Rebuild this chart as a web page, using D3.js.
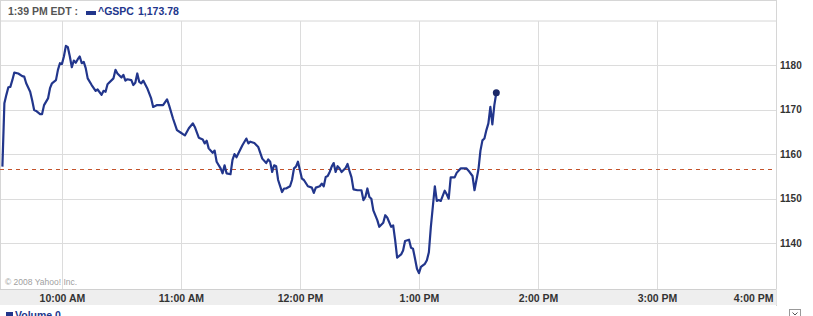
<!DOCTYPE html>
<html>
<head>
<meta charset="utf-8">
<script src="https://cdn.jsdelivr.net/npm/d3@7"></script>
<style>
  body { margin: 0; background: #fff; }
  svg { display: block; font-family: "Liberation Sans", Arial, sans-serif; }
</style>
</head>
<body>
<div id="chart"></div>
<script>
// ^GSPC intraday, minutes after the 9:30 open and the index level
const minutesSinceOpen = [
  0, 1, 2, 3, 4, 5, 6, 8, 10, 11, 12, 14, 15, 16, 17, 19, 20, 21, 23, 24,
  25, 27, 28, 29, 30, 31, 32, 33, 34, 35, 36, 37, 38, 39, 40, 41, 42, 43, 45, 47,
  48, 50, 51, 52, 53, 56, 57, 58, 60, 61, 62, 63, 65, 66, 67, 68, 69, 70, 71, 73,
  75, 76, 78, 81, 83, 84, 86, 88, 90, 91, 92, 94, 96, 97, 99, 101, 102, 103, 104, 106,
  107, 108, 110, 111, 112, 113, 115, 116, 117, 118, 120, 121, 123, 124, 125, 127, 129, 130, 131, 133,
  134, 135, 136, 137, 138, 139, 141, 142, 143, 145, 146, 147, 148, 149, 150, 151, 152, 154, 156, 157,
  158, 160, 161, 162, 163, 164, 165, 166, 167, 168, 169, 170, 171, 173, 174, 175, 176, 177, 179, 181,
  182, 183, 184, 185, 186, 187, 189, 190, 192, 193, 194, 196, 197, 198, 199, 201, 202, 203, 205, 206,
  207, 208, 209, 210, 211, 213, 214, 215, 216, 218, 219, 220, 221, 223, 224, 225, 226, 228, 229, 231,
  234, 235, 237, 238, 240, 241, 242, 243, 244, 245, 246, 247, 248, 249
];
const prices = [
  1157.2, 1171.4, 1173.3, 1175.0, 1175.1, 1176.6, 1178.3, 1178.1, 1177.5, 1177.4, 1175.9, 1174.0, 1172.1, 1169.9, 1169.7, 1169.0, 1169.0, 1171.0, 1172.5, 1174.8,
  1175.9, 1176.6, 1178.9, 1180.4, 1180.2, 1181.9, 1184.3, 1184.0, 1181.9, 1179.5, 1181.0, 1180.5, 1181.3, 1181.9, 1180.4, 1180.7, 1179.3, 1177.0, 1175.5, 1174.2,
  1174.5, 1173.3, 1174.2, 1174.0, 1175.7, 1177.0, 1178.9, 1178.1, 1177.2, 1177.8, 1176.5, 1176.8, 1176.6, 1175.5, 1176.0, 1178.1, 1176.2, 1175.9, 1176.5, 1174.8,
  1172.5, 1170.6, 1171.0, 1171.0, 1172.3, 1171.0, 1168.0, 1165.4, 1164.8, 1164.5, 1164.2, 1165.8, 1166.9, 1166.1, 1163.7, 1163.3, 1162.4, 1163.0, 1161.3, 1160.3,
  1160.8, 1158.3, 1156.8, 1155.7, 1157.5, 1155.7, 1155.5, 1158.7, 1160.0, 1159.3, 1161.1, 1162.0, 1163.5, 1162.4, 1162.8, 1162.5, 1161.6, 1160.3, 1159.0, 1158.0,
  1158.8, 1158.3, 1156.0, 1157.5, 1157.3, 1154.2, 1151.5, 1152.3, 1152.3, 1152.8, 1154.2, 1156.8, 1157.2, 1158.3, 1156.4, 1154.5, 1154.2, 1152.8, 1152.5, 1151.3,
  1152.5, 1152.8, 1153.4, 1152.8, 1154.9, 1155.1, 1156.0, 1157.2, 1158.0, 1156.0, 1157.3, 1156.8, 1156.0, 1156.9, 1157.8, 1156.2, 1154.8, 1152.1, 1151.9, 1151.9,
  1149.7, 1150.4, 1152.3, 1150.4, 1150.0, 1147.4, 1145.2, 1143.7, 1144.6, 1146.3, 1145.8, 1143.7, 1144.0, 1140.7, 1136.8, 1137.5, 1138.4, 1140.5, 1140.8, 1139.0,
  1138.8, 1136.6, 1134.3, 1133.3, 1134.7, 1135.4, 1136.2, 1138.0, 1143.7, 1152.8, 1149.5, 1149.7, 1149.5, 1151.8, 1151.0, 1150.0, 1154.8, 1154.8, 1155.8, 1156.8,
  1156.8, 1156.3, 1155.1, 1151.9, 1156.6, 1160.8, 1163.1, 1163.5, 1165.4, 1166.9, 1170.6, 1166.7, 1171.0, 1173.78
];
const previousClose = 1156.6;
const yTicks = [1140, 1150, 1160, 1170, 1180];
const xTickMinutes = [30, 90, 150, 210, 270, 330, 390];
const xTickLabels = ["10:00 AM", "11:00 AM", "12:00 PM", "1:00 PM", "2:00 PM", "3:00 PM", "4:00 PM"];
const headerTime = "1:39 PM EDT :";
const symbol = "^GSPC";
const lastPrice = "1,173.78";

const W = 813, H = 316;
const plot = { left: 0, right: 776, top: 21, bottom: 289 };
const navy = "#22368c";

const svg = d3.select("#chart").append("svg")
  .attr("width", W)
  .attr("height", H);

const x = d3.scaleLinear().domain([0, 390]).range([2.4, plot.right]);
const y = d3.scaleLinear().domain([1129.75, 1189.87]).range([plot.bottom, plot.top]);

// header strip
svg.append("rect")
  .attr("x", 0.5).attr("y", 0.5)
  .attr("width", plot.right).attr("height", plot.top - 0.5)
  .attr("fill", "#fff").attr("stroke", "#d6d6d6");

svg.append("text")
  .attr("x", 8).attr("y", 15)
  .attr("font-size", "10.5px").attr("font-weight", "bold")
  .attr("fill", "#555")
  .text(headerTime);

svg.append("rect")
  .attr("x", 86).attr("y", 11).attr("width", 10).attr("height", 4)
  .attr("fill", navy);

svg.append("text")
  .attr("x", 98).attr("y", 15)
  .attr("font-size", "10.5px").attr("font-weight", "bold")
  .attr("fill", navy)
  .text(symbol);

svg.append("text")
  .attr("x", 138).attr("y", 15)
  .attr("font-size", "10.5px").attr("font-weight", "bold")
  .attr("fill", navy)
  .text(lastPrice);

// grid
svg.append("g")
  .selectAll("line")
  .data(yTicks)
  .join("line")
  .attr("x1", plot.left).attr("x2", plot.right)
  .attr("y1", d => Math.round(y(d)) + 0.5).attr("y2", d => Math.round(y(d)) + 0.5)
  .attr("stroke", "#dcdcdc");

svg.append("g")
  .selectAll("line")
  .data(xTickMinutes.slice(0, -1))
  .join("line")
  .attr("x1", d => Math.round(x(d)) + 0.5).attr("x2", d => Math.round(x(d)) + 0.5)
  .attr("y1", plot.top).attr("y2", plot.bottom)
  .attr("stroke", "#dcdcdc");

// plot border
svg.append("path")
  .attr("d", `M${plot.left + 0.5},${plot.top}V${plot.bottom}M${plot.right + 0.5},0V${plot.bottom + 17}`)
  .attr("stroke", "#d6d6d6").attr("fill", "none");

// right axis labels
const yAxis = d3.axisRight(y).tickValues(yTicks).tickFormat(d3.format("d")).tickSize(0).tickPadding(4);
svg.append("g")
  .attr("transform", `translate(${plot.right},0)`)
  .call(yAxis)
  .call(g => g.select(".domain").remove())
  .selectAll("text")
  .attr("font-family", "Liberation Sans, Arial, sans-serif")
  .attr("font-size", "10px")
  .attr("font-weight", "bold")
  .attr("fill", "#333");

// copyright
svg.append("text")
  .attr("x", 5).attr("y", 285)
  .attr("font-size", "8.5px")
  .attr("fill", "#a0a0a0")
  .text("\u00a9 2008 Yahoo! Inc.");

// previous close
svg.append("line")
  .attr("x1", plot.left).attr("x2", plot.right)
  .attr("y1", Math.round(y(previousClose)) + 0.5).attr("y2", Math.round(y(previousClose)) + 0.5)
  .attr("stroke", "#c4532c").attr("stroke-dasharray", "4,4");

// time axis band
svg.append("rect")
  .attr("x", 0).attr("y", plot.bottom)
  .attr("width", plot.right + 0.5).attr("height", 16)
  .attr("fill", "#eeeeee");
svg.append("line")
  .attr("x1", 0).attr("x2", plot.right)
  .attr("y1", plot.bottom + 0.5).attr("y2", plot.bottom + 0.5)
  .attr("stroke", "#d0d0d0");

const xAxis = d3.axisBottom(x)
  .tickValues(xTickMinutes)
  .tickFormat((d, i) => xTickLabels[i])
  .tickSize(0).tickPadding(6);
svg.append("g")
  .attr("transform", `translate(0,${plot.bottom})`)
  .call(xAxis)
  .call(g => g.select(".domain").remove())
  .selectAll("text")
  .attr("font-family", "Liberation Sans, Arial, sans-serif")
  .attr("font-size", "10.5px")
  .attr("font-weight", "bold")
  .attr("fill", "#333")
  .attr("text-anchor", (d, i) => i === xTickMinutes.length - 1 ? "end" : "middle")
  .attr("dx", (d, i) => i === xTickMinutes.length - 1 ? -3 : 0);

// price line
const points = minutesSinceOpen.map((m, i) => ({ m, p: prices[i] }));
const line = d3.line().x(d => x(d.m)).y(d => y(d.p));

svg.append("path")
  .datum(points)
  .attr("d", line)
  .attr("fill", "none")
  .attr("stroke", navy)
  .attr("stroke-width", 2.2)
  .attr("stroke-linejoin", "round");

const last = points[points.length - 1];
svg.append("circle")
  .attr("cx", x(last.m)).attr("cy", y(last.p))
  .attr("r", 3.5)
  .attr("fill", "#1b2868");

// volume strip, only its top shows in the window
svg.append("rect")
  .attr("x", 6).attr("y", 312).attr("width", 7).attr("height", 6)
  .attr("fill", navy);
svg.append("text")
  .attr("x", 15).attr("y", 319)
  .attr("font-size", "10.5px").attr("font-weight", "bold")
  .attr("fill", navy)
  .text("Volume 0");

svg.append("rect")
  .attr("x", 789.5).attr("y", 309.5).attr("width", 11).attr("height", 10)
  .attr("fill", "#fff").attr("stroke", "#999");
svg.append("path")
  .attr("d", "M792.5,312.5L795,315L797.5,312.5")
  .attr("stroke", "#555").attr("fill", "none");
</script>
</body>
</html>
